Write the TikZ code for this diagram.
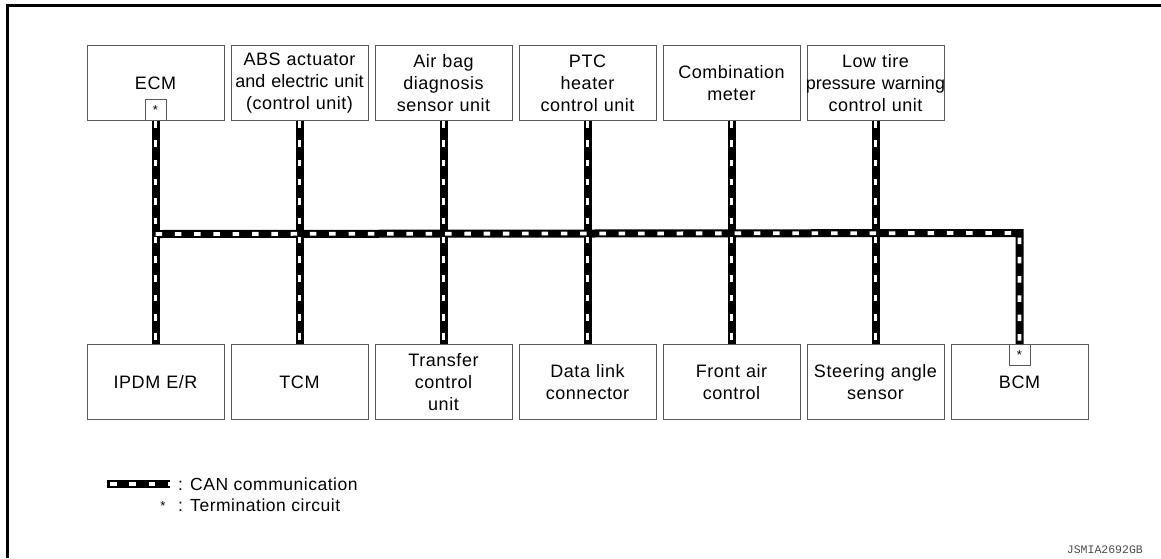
\documentclass[tikz,border=0pt]{standalone}
\usepackage{fontspec}
\usetikzlibrary{calc}
\setmainfont{Liberation Sans}[LetterSpace=3]
\newfontfamily\codefont{Liberation Mono}
% a line set without extra tracking, so that it fits a box
\newcommand{\snugline}[1]{\makebox[137pt]{\addfontfeatures{LetterSpace=0}#1}}
\begin{document}
\begin{tikzpicture}[x=1pt,y=-1pt,
  unit/.style={draw=black!65, line width=1pt, fill=white, text width=137pt,
    minimum height=75pt, inner sep=0pt, align=center, anchor=north west,
    font=\fontsize{18}{22}\selectfont},
  term/.style={draw=black!65, line width=1pt, fill=white, minimum size=21pt,
    inner sep=0pt, font=\fontsize{13}{13}\selectfont},
  canbase/.style={line width=8pt, draw=black, line join=miter},
  candash/.style={line width=3.8pt, draw=white, dash pattern=on 6.5pt off 12.8pt},
  legend/.style={anchor=west, inner sep=0pt, font=\fontsize{17.5}{20}\selectfont},
]
\useasboundingbox (0,0) rectangle (1161,558);
% frame
\draw[line width=3pt] (1161,5) -- (7.5,5) -- (7.5,558);

% control units on the upper row
\node[unit] (t1) at (86.5,45)  {ECM};
\node[unit] (t2) at (230.5,45) {ABS actuator\\\snugline{and electric unit}\\(control unit)};
\node[unit] (t3) at (374.5,45) {Air bag\\diagnosis\\sensor unit};
\node[unit] (t4) at (518.5,45) {PTC\\heater\\control unit};
\node[unit] (t5) at (662.5,45) {Combination\\meter};
\node[unit] (t6) at (806.5,45) {Low tire\\\snugline{pressure warning}\\control unit};

% control units on the lower row
\node[unit] (b1) at (86.5,344)  {IPDM E/R};
\node[unit] (b2) at (230.5,344) {TCM};
\node[unit] (b3) at (374.5,344) {Transfer\\control\\unit};
\node[unit] (b4) at (518.5,344) {Data link\\connector};
\node[unit] (b5) at (662.5,344) {Front air\\control};
\node[unit] (b6) at (806.5,344) {Steering angle\\sensor};
\node[unit] (b7) at (950.5,344) {BCM};

% termination circuits
\node[term, anchor=south] (ecmT) at (t1.south) {*};
\node[term, anchor=north] (bcmT) at (b7.north) {*};

% CAN bus
\coordinate (busL) at ($(t1.south)+(0,113)$);
\coordinate (busR) at ($(b7.north)+(0,-111)$);
\foreach \s in {canbase,candash}{
  \draw[\s] (ecmT.south) -- (b1.north);
  \draw[\s] (t2.south) -- (b2.north);
  \draw[\s] (t3.south) -- (b3.north);
  \draw[\s] (t4.south) -- (b4.north);
  \draw[\s] (t5.south) -- (b5.north);
  \draw[\s] (t6.south) -- (b6.north);
  \draw[\s] (busL) -- (busR) -- (bcmT.north);
}

% legend
\coordinate (lgA) at (107,484);
\coordinate (lgB) at (170,484);
\draw[canbase] (lgA) -- (lgB);
\draw[candash, dash phase=-3pt] (lgA) -- (lgB);
\node[legend] (lgCan) at (178,484) {: CAN communication};
\node[font=\fontsize{13}{13}\selectfont, inner sep=0pt] (lgStar) at (163,506) {*};
\node[legend] (lgTerm) at (178,505) {: Termination circuit};

\node[anchor=east, inner sep=0pt, text=black!70, font=\codefont\fontsize{11.5}{12}\selectfont] (code) at (1143,550) {JSMIA2692GB};
\end{tikzpicture}
\end{document}
